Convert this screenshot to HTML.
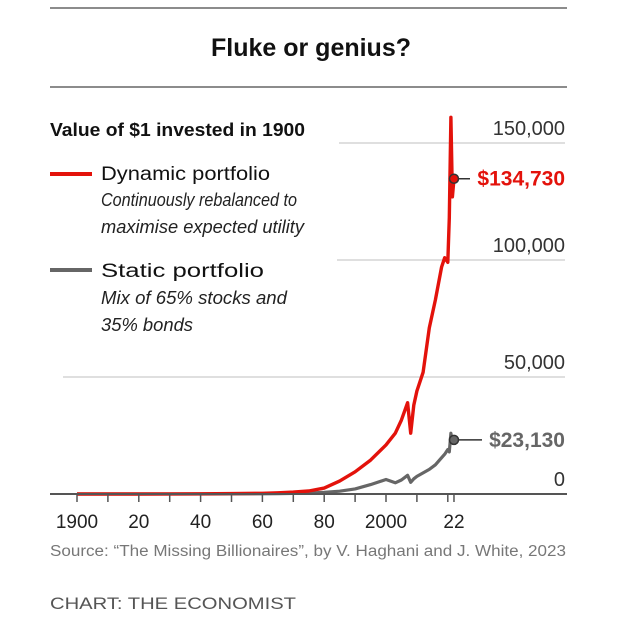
<!DOCTYPE html>
<html><head><meta charset="utf-8">
<style>
html,body{margin:0;padding:0;background:#fff;}
body{width:624px;height:618px;overflow:hidden;font-family:"Liberation Sans",sans-serif;}
svg text{font-family:"Liberation Sans",sans-serif;}
</style></head>
<body>
<svg id="chart" width="624" height="618" viewBox="0 0 624 618">
  <line x1="50" y1="8" x2="567" y2="8" stroke="#666" stroke-width="1.5"/>
  <text x="211" y="56" font-size="25" font-weight="bold" fill="#111" textLength="200" lengthAdjust="spacingAndGlyphs">Fluke or genius?</text>
  <line x1="50" y1="87" x2="567" y2="87" stroke="#666" stroke-width="1.5"/>

  <text x="50" y="136" font-size="18" font-weight="bold" fill="#111" textLength="255" lengthAdjust="spacingAndGlyphs">Value of $1 invested in 1900</text>
  <g>
    <line x1="50" y1="174" x2="92" y2="174" stroke="#e3120b" stroke-width="4"/>
    <text x="101" y="180" font-size="19" fill="#111" textLength="169" lengthAdjust="spacingAndGlyphs">Dynamic portfolio</text>
    <text x="101" y="206" font-size="18" font-style="italic" fill="#222" textLength="196" lengthAdjust="spacingAndGlyphs">Continuously rebalanced to</text>
    <text x="101" y="233" font-size="18" font-style="italic" fill="#222" textLength="203" lengthAdjust="spacingAndGlyphs">maximise expected utility</text>
  </g>
  <g>
    <line x1="50" y1="270" x2="92" y2="270" stroke="#666" stroke-width="4"/>
    <text x="101" y="277" font-size="19" fill="#111" textLength="163" lengthAdjust="spacingAndGlyphs">Static portfolio</text>
    <text x="101" y="304" font-size="18" font-style="italic" fill="#222" textLength="186" lengthAdjust="spacingAndGlyphs">Mix of 65% stocks and</text>
    <text x="101" y="331" font-size="18" font-style="italic" fill="#222" textLength="92" lengthAdjust="spacingAndGlyphs">35% bonds</text>
  </g>
  <g id="grid"></g>
  <g id="series"></g>
  <g id="xaxis"></g>
  <g id="anno"></g>

  <text x="50" y="556" font-size="15.5" fill="#777" textLength="516" lengthAdjust="spacingAndGlyphs">Source: “The Missing Billionaires”, by V. Haghani and J. White, 2023</text>
  <text x="50" y="609" font-size="17" fill="#555" textLength="246" lengthAdjust="spacingAndGlyphs">CHART: THE ECONOMIST</text>
</svg>
<script>
const years = [1900,1910,1920,1930,1940,1950,1960,1965,1970,1975,1980,1985,1990,1995,2000,2003,2005,2007,2008,2009,2010,2012,2014,2016,2018,2019,2020,2020.5,2021,2021.5,2022];
const dynamicValues = [1,5,20,40,80,150,300,500,800,1300,2500,5500,9500,14500,21000,26000,31600,39000,26000,38000,44000,52000,71000,83000,97000,101000,99000,118000,161000,127000,134730];
const staticValues = [1,2,5,10,20,40,80,150,250,400,700,1200,2200,4000,6200,4800,6000,8000,5000,6500,7500,9000,10500,12500,15500,17000,19000,18000,26000,22000,23130];
const yTicks = [0,50000,100000,150000];
const yTickLabels = ["0","50,000","100,000","150,000"];
const xTicks = [1900,1910,1920,1930,1940,1950,1960,1970,1980,1990,2000,2010,2020,2022];
const xTickLabels = ["1900","","20","","40","","60","","80","","2000","","","22"];
const endLabels = ["$134,730","$23,130"];

const xs = y => 77 + (y - 1900) * 3.09;
const ys = v => 494 - v / 50000 * 117;
const NS = "http://www.w3.org/2000/svg";
function mk(tag, attrs, parent){const e=document.createElementNS(NS,tag);for(const k in attrs)e.setAttribute(k,attrs[k]);parent.appendChild(e);return e;}

const grid = document.getElementById('grid');
const gridStart = {0:50, 50000:63, 100000:337, 150000:339};
yTicks.forEach((t,i)=>{
  if(t>0){
    const l = mk('line',{x1:gridStart[t],x2:565,y1:ys(t),y2:ys(t),stroke:'#ccc','stroke-width':1.2},grid);
    
    
  }
  const tx = mk('text',{x:565,y:ys(t)-8,'text-anchor':'end','font-size':20,fill:'#333'},grid);
  tx.textContent = yTickLabels[i];
  
  
});

const ser = document.getElementById('series');
function path(vals){return vals.map((v,i)=>(i?'L':'M')+xs(years[i]).toFixed(1)+','+ys(v).toFixed(1)).join(' ');}
const ps = mk('path',{d:path(staticValues),fill:'none',stroke:'#666','stroke-width':3.2,'stroke-linejoin':'round'},ser);


const pd = mk('path',{d:path(dynamicValues),fill:'none',stroke:'#e3120b','stroke-width':3.4,'stroke-linejoin':'round'},ser);



const xa = document.getElementById('xaxis');
const ax = mk('line',{x1:50,x2:567,y1:494,y2:494,stroke:'#555','stroke-width':2},xa);


xTicks.forEach((t,i)=>{
  const tk = mk('line',{x1:xs(t),x2:xs(t),y1:494,y2:502,stroke:'#555','stroke-width':1.5},xa);
  
  
  if(xTickLabels[i]){
    const tx = mk('text',{x:xs(t),y:528,'text-anchor':'middle','font-size':19,fill:'#222'},xa);
    tx.textContent = xTickLabels[i];
    
    
  }
});

const an = document.getElementById('anno');
const last = years.length-1;
[[dynamicValues[last],'#e3120b',470,endLabels[0],'dynamic-end'],[staticValues[last],'#666',482,endLabels[1],'static-end']].forEach(([v,c,x2,lab,nm])=>{
  const cx = xs(years[last]), cy = ys(v);
  const l = mk('line',{x1:cx,x2:x2,y1:cy,y2:cy,stroke:'#333','stroke-width':1.5},an);
  
  
  const c1 = mk('circle',{cx:cx,cy:cy,r:4.5,fill:c,stroke:'#333','stroke-width':1.5},an);
  
  
  const t = mk('text',{x:565,y:cy+7,'text-anchor':'end','font-size':21,'font-weight':'bold',fill:c},an);
  t.textContent = lab;
  
  
});
</script>
</body></html>
